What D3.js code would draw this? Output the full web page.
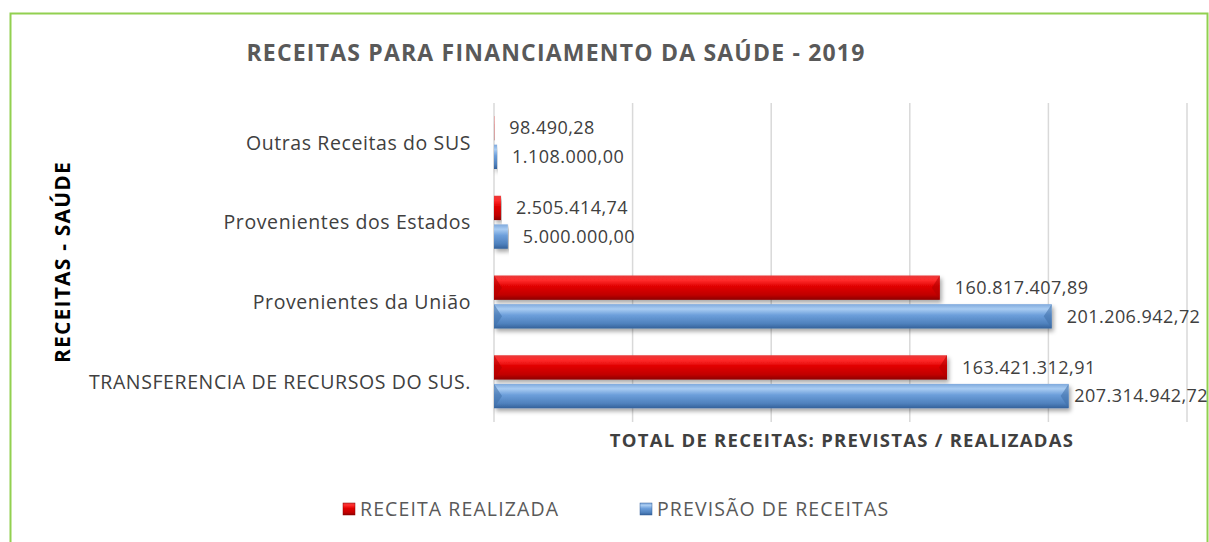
<!DOCTYPE html>
<meta charset="utf-8">
<style>
body { margin: 0; background: #fff; }
svg { display: block; font-family: "Open Sans", "Liberation Sans", sans-serif; }
.cat { font-size: 19.5px; letter-spacing: 0.6px; fill: #404040; }
.val { font-size: 18px; letter-spacing: 0.45px; fill: #404040; }
.grid line { stroke: #d9d9d9; stroke-width: 1.5px; }
</style>
<body>
<script src="https://d3js.org/d3.v7.min.js"></script>
<script>

const categories = ["Outras Receitas do SUS", "Provenientes dos Estados", "Provenientes da União", "TRANSFERENCIA DE RECURSOS DO SUS."];
const realizada = [98490.28, 2505414.74, 160817407.89, 163421312.91];
const prevista = [1108000.00, 5000000.00, 201206942.72, 207314942.72];
const seriesNames = ["RECEITA REALIZADA", "PREVISÃO DE RECEITAS"];
const xTicks = [0, 50e6, 100e6, 150e6, 200e6, 250e6];

const width = 1209, height = 542;

const br = d3.formatLocale({decimal: ",", thousands: ".", grouping: [3], currency: ["R$", ""]});
const fmt = br.format(",.2f");

const svg = d3.select("body").append("svg")
    .attr("width", width)
    .attr("height", height);

const defs = svg.append("defs");

function grad(id, stops) {
  const g = defs.append("linearGradient").attr("id", id)
      .attr("x1", 0).attr("y1", 0).attr("x2", 0).attr("y2", 1);
  stops.forEach(s => g.append("stop").attr("offset", s[0]).attr("stop-color", s[1]));
}
grad("gRed", [[0, "#e83a3a"], [0.2, "#ff2a2a"], [0.45, "#e00000"], [0.8, "#c00000"], [1, "#8c0000"]]);
grad("gBlue", [[0, "#7fa9dc"], [0.2, "#a9ccf2"], [0.45, "#6d9fdb"], [0.8, "#4f81bd"], [1, "#34619a"]]);

const shadow = defs.append("filter").attr("id", "shadow")
    .attr("x", "-5%").attr("y", "-30%").attr("width", "110%").attr("height", "180%");
shadow.append("feDropShadow").attr("dx", 2).attr("dy", 3).attr("stdDeviation", 2)
    .attr("flood-color", "#000").attr("flood-opacity", 0.35);

// chart frame
svg.append("rect")
    .attr("x", 10.5).attr("y", 13.5)
    .attr("width", 1197).attr("height", 700)
    .attr("fill", "none")
    .attr("stroke", "#92d050")
    .attr("stroke-width", 2);

const x = d3.scaleLinear().domain([0, 250e6]).range([494, 1187]);
const y = d3.scaleBand().domain(categories).range([103, 422]);
const ySub = d3.scaleBand().domain([0, 1]).range([13, 66]).paddingInner(0.15);

svg.append("g").attr("class", "grid")
  .selectAll("line")
  .data(xTicks)
  .join("line")
    .attr("x1", d => x(d)).attr("x2", d => x(d))
    .attr("y1", 103).attr("y2", 422);

// title
svg.append("text")
    .attr("x", 556).attr("y", 61)
    .attr("text-anchor", "middle")
    .attr("font-size", 23).attr("font-weight", "bold")
    .attr("letter-spacing", 1.2)
    .attr("fill", "#595959")
    .text("RECEITAS PARA FINANCIAMENTO DA SAÚDE - 2019");

// y axis title
svg.append("text")
    .attr("transform", "translate(70,262) rotate(-90)")
    .attr("text-anchor", "middle")
    .attr("font-size", 21).attr("font-weight", "bold")
    .attr("letter-spacing", 1.2)
    .attr("fill", "#000")
    .text("RECEITAS - SAÚDE");

// x axis title
svg.append("text")
    .attr("x", 842).attr("y", 447)
    .attr("text-anchor", "middle")
    .attr("font-size", 18.5).attr("font-weight", "bold")
    .attr("letter-spacing", 1.25)
    .attr("fill", "#404040")
    .text("TOTAL DE RECEITAS: PREVISTAS / REALIZADAS");

// category labels
svg.append("g")
  .selectAll("text")
  .data(categories)
  .join("text")
    .attr("class", "cat")
    .attr("x", 471)
    .attr("y", d => y(d) + y.bandwidth() / 2)
    .attr("dy", "0.35em")
    .attr("text-anchor", "end")
    .text(d => d);

const rows = [];
categories.forEach((c, i) => {
  rows.push({cat: c, s: 0, v: realizada[i]});
  rows.push({cat: c, s: 1, v: prevista[i]});
});

const bars = svg.append("g").selectAll("g")
  .data(rows)
  .join("g")
    .attr("transform", d => `translate(${x(0)},${y(d.cat) + ySub(d.s)})`);

bars.append("rect")
    .attr("width", d => x(d.v) - x(0))
    .attr("height", ySub.bandwidth())
    .attr("fill", d => d.s === 0 ? "url(#gRed)" : "url(#gBlue)")
    .attr("filter", "url(#shadow)");

// bevel chevrons at the bar ends
bars.filter(d => x(d.v) - x(0) > 30).append("path")
    .attr("d", d => {
      const w = x(d.v) - x(0), h = ySub.bandwidth();
      return `M0,0 L8,${h / 2} L0,${h} Z M${w},0 L${w - 8},${h / 2} L${w},${h} Z`;
    })
    .attr("fill", d => d.s === 0 ? "#b00000" : "#3f6fa8")
    .attr("opacity", 0.55);

// value labels
svg.append("g")
  .selectAll("text")
  .data(rows)
  .join("text")
    .attr("class", "val")
    .attr("y", d => y(d.cat) + ySub(d.s) + ySub.bandwidth() / 2)
    .attr("dy", "0.35em")
    .text(d => fmt(d.v))
    .attr("x", function(d) {
      const w = this.getComputedTextLength();
      return Math.min(x(d.v) + 15, 1208 - w);
    });

// legend
const legend = svg.append("g").selectAll("g")
  .data(seriesNames)
  .join("g")
    .attr("transform", (d, i) => `translate(${i === 0 ? 343 : 640},503)`);

legend.append("rect")
    .attr("width", 12).attr("height", 12)
    .attr("fill", (d, i) => i === 0 ? "url(#gRed)" : "url(#gBlue)")
    .attr("stroke", (d, i) => i === 0 ? "#8c0000" : "#34619a")
    .attr("stroke-width", 0.5);

legend.append("text")
    .attr("x", 17).attr("y", 6)
    .attr("dy", "0.35em")
    .attr("font-size", 19.5)
    .attr("letter-spacing", 1.1)
    .attr("fill", "#595959")
    .text(d => d);

</script>
</body>
